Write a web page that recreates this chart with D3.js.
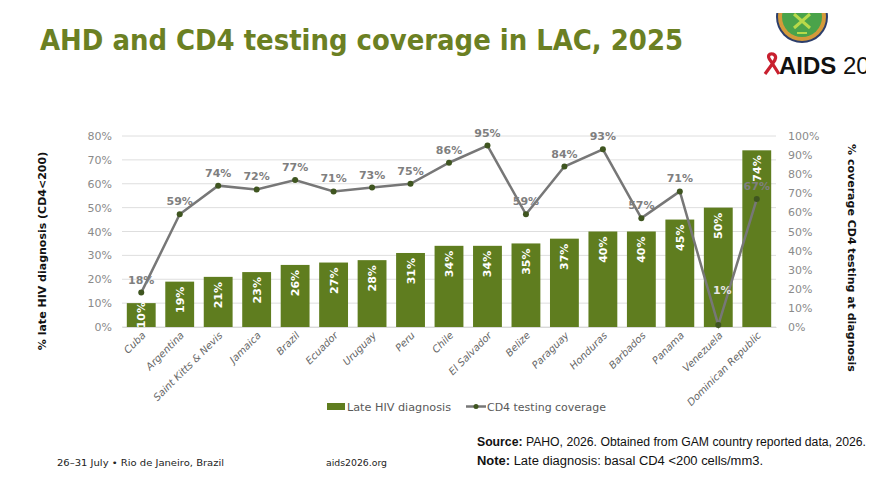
<!DOCTYPE html>
<html>
<head>
<meta charset="utf-8">
<script src="https://cdn.jsdelivr.net/npm/d3@7"></script>
<style>
  body { margin: 0; background: #fff; }
  svg { display: block; }
</style>
</head>
<body>
<svg id="chart"></svg>
<script>
// Data
const countries = ["Cuba", "Argentina", "Saint Kitts & Nevis", "Jamaica", "Brazil", "Ecuador",
  "Uruguay", "Peru", "Chile", "El Salvador", "Belize", "Paraguay", "Honduras", "Barbados",
  "Panama", "Venezuela", "Dominican Republic"];
const lateDiagnosis = [10, 19, 21, 23, 26, 27, 28, 31, 34, 34, 35, 37, 40, 40, 45, 50, 74];
const cd4Coverage = [18, 59, 74, 72, 77, 71, 73, 75, 86, 95, 59, 84, 93, 57, 71, 1, 67];
const leftTicks = [0, 10, 20, 30, 40, 50, 60, 70, 80];
const rightTicks = [0, 10, 20, 30, 40, 50, 60, 70, 80, 90, 100];
const legendLabels = ["Late HIV diagnosis", "CD4 testing coverage"];

const W = 879, H = 491;
const barColor = "#5f7d1f";
const lineColor = "#777777";
const labelGray = "#7f7f7f";
const tickFont = "DejaVu Sans, Verdana";

const svg = d3.select("#chart").attr("width", W).attr("height", H);

// Title
svg.append("text")
  .attr("x", 40).attr("y", 50)
  .attr("font-family", "DejaVu Sans Condensed, DejaVu Sans")
  .attr("font-stretch", "condensed")
  .attr("font-weight", "bold")
  .attr("font-size", 29)
  .attr("textLength", 643).attr("lengthAdjust", "spacingAndGlyphs")
  .attr("fill", "#6b8023")
  .text("AHD and CD4 testing coverage in LAC, 2025");

// Logo (top right)
const logo = svg.append("g");
logo.append("clipPath").attr("id", "logoClip")
  .append("rect").attr("x", 760).attr("y", 13).attr("width", 120).attr("height", 40);
logo.append("clipPath").attr("id", "edgeClip")
  .append("rect").attr("x", 0).attr("y", 0).attr("width", 866).attr("height", 100);
const emb = logo.append("g").attr("clip-path", "url(#logoClip)");
emb.append("circle").attr("cx", 802).attr("cy", 17).attr("r", 26).attr("fill", "#2c3e6b");
emb.append("circle").attr("cx", 802).attr("cy", 17).attr("r", 24).attr("fill", "#d49a3a");
emb.append("circle").attr("cx", 802).attr("cy", 17).attr("r", 20).attr("fill", "#4aa34a");
emb.append("path").attr("d", "M794,14 L810,28 M810,14 L794,28")
  .attr("stroke", "#b8d94a").attr("stroke-width", 3);
emb.append("path").attr("d", "M797,33 L807,33").attr("stroke", "#b8d94a").attr("stroke-width", 2);
logo.append("path")
  .attr("d", "M765,74 L773,63 C776,59 777,56 773,54 C769,53 767,56 770,60 L779,74")
  .attr("fill", "none").attr("stroke", "#c8202f").attr("stroke-width", 3.2);
logo.append("text").attr("x", 779).attr("y", 74)
  .attr("font-family", "Liberation Sans, Arial").attr("font-weight", "bold")
  .attr("font-size", 24).attr("fill", "#111").text("AIDS");
logo.append("text").attr("x", 843).attr("y", 74)
  .attr("clip-path", "url(#edgeClip)")
  .attr("font-family", "Liberation Sans, Arial")
  .attr("font-size", 24).attr("fill", "#111").text("20");

// Scales
const x = d3.scaleBand().domain(countries).range([122, 776])
  .paddingInner(0.25).paddingOuter(0.125);
const yL = d3.scaleLinear().domain([0, 80]).range([327, 136]);
const yR = d3.scaleLinear().domain([0, 100]).range([327, 136]);
const cx = i => x(countries[i]) + x.bandwidth() / 2;

// Gridlines
svg.append("g").selectAll("line").data(leftTicks).join("line")
  .attr("x1", 122).attr("x2", 776)
  .attr("y1", d => yL(d)).attr("y2", d => yL(d))
  .attr("stroke", "#dedede").attr("stroke-width", 1);

// Axes
const leftAxis = svg.append("g").attr("transform", "translate(122,0)")
  .call(d3.axisLeft(yL).tickValues(leftTicks).tickSize(0).tickPadding(10).tickFormat(d => d + "%"));
const rightAxis = svg.append("g").attr("transform", "translate(776,0)")
  .call(d3.axisRight(yR).tickValues(rightTicks).tickSize(0).tickPadding(12).tickFormat(d => d + "%"));
[leftAxis, rightAxis].forEach(a => {
  a.select(".domain").remove();
  a.selectAll("text").attr("font-family", tickFont).attr("font-size", 11).attr("fill", "#8a8a8a");
});

const xAxis = svg.append("g").attr("transform", "translate(0,327)")
  .call(d3.axisBottom(x).tickSize(0).tickPadding(0));
xAxis.select(".domain").attr("stroke", "#d9d9d9");
xAxis.selectAll("text")
  .attr("font-family", tickFont).attr("font-size", 10).attr("font-style", "italic")
  .attr("fill", "#666")
  .attr("text-anchor", "end")
  .attr("dy", 0)
  .attr("transform", "translate(5,9) rotate(-45)");

// Bars
svg.append("g").selectAll("rect").data(lateDiagnosis).join("rect")
  .attr("x", (d, i) => x(countries[i]))
  .attr("y", d => yL(d))
  .attr("width", x.bandwidth())
  .attr("height", d => yL(0) - yL(d))
  .attr("fill", barColor);

// Line
const line = d3.line()
  .x((d, i) => cx(i))
  .y(d => yR(d));

svg.append("path").datum(cd4Coverage)
  .attr("d", line)
  .attr("fill", "none").attr("stroke", lineColor).attr("stroke-width", 2.5);

svg.append("g").selectAll("circle").data(cd4Coverage).join("circle")
  .attr("cx", (d, i) => cx(i))
  .attr("cy", d => yR(d))
  .attr("r", 3)
  .attr("fill", "#3f5520");

// line labels (very low values are lifted clear of the axis, inside the bar)
svg.append("g").selectAll("text").data(cd4Coverage).join("text")
  .attr("x", (d, i) => cx(i) + (d < 5 ? 4 : 0))
  .attr("y", d => d < 5 ? yR(d) - 31 : yR(d) - 9)
  .attr("text-anchor", "middle")
  .attr("font-family", tickFont).attr("font-weight", "bold").attr("font-size", 11)
  .attr("fill", d => d < 5 ? "#e6e6e6" : labelGray)
  .text(d => d + "%");

// Bar labels (drawn last, inside end; short bars keep label on the baseline)
svg.append("g").selectAll("text").data(lateDiagnosis).join("text")
  .attr("transform", (d, i) => `translate(${cx(i) + 4},${Math.min(yL(d) + 5, yL(0) - 25)}) rotate(-90)`)
  .attr("text-anchor", "end")
  .attr("font-family", tickFont).attr("font-weight", "bold").attr("font-size", 11)
  .attr("fill", "#fff")
  .text(d => d + "%");

// Axis titles
svg.append("text")
  .attr("transform", "translate(46,251) rotate(-90)")
  .attr("text-anchor", "middle")
  .attr("font-family", tickFont).attr("font-weight", "bold").attr("font-size", 11)
  .attr("fill", "#111")
  .text("% late HIV diagnosis (CD4<200)");

svg.append("text")
  .attr("transform", "translate(848,258) rotate(90)")
  .attr("text-anchor", "middle")
  .attr("font-family", tickFont).attr("font-weight", "bold").attr("font-size", 11)
  .attr("fill", "#111")
  .text("% coverage CD4 testing at diagnosis");

// Legend
const leg = svg.append("g");
leg.append("rect").attr("x", 327).attr("y", 403).attr("width", 18).attr("height", 7).attr("fill", barColor);
leg.append("text").attr("x", 347).attr("y", 411)
  .attr("font-family", tickFont).attr("font-size", 10.5).attr("fill", "#595959")
  .attr("textLength", 104).attr("lengthAdjust", "spacingAndGlyphs")
  .text(legendLabels[0]);
leg.append("line").attr("x1", 466).attr("x2", 486).attr("y1", 406.5).attr("y2", 406.5)
  .attr("stroke", lineColor).attr("stroke-width", 2.5);
leg.append("circle").attr("cx", 476).attr("cy", 406.5).attr("r", 2.5).attr("fill", "#3f5520");
leg.append("text").attr("x", 487).attr("y", 411)
  .attr("font-family", tickFont).attr("font-size", 10.5).attr("fill", "#595959")
  .attr("textLength", 119).attr("lengthAdjust", "spacingAndGlyphs")
  .text(legendLabels[1]);

// Footer
svg.append("text").attr("x", 57).attr("y", 466)
  .attr("font-family", tickFont).attr("font-size", 9).attr("fill", "#222")
  .attr("textLength", 167).attr("lengthAdjust", "spacingAndGlyphs")
  .text("26–31 July  •  Rio de Janeiro, Brazil");
svg.append("text").attr("x", 326).attr("y", 466)
  .attr("font-family", tickFont).attr("font-size", 9).attr("fill", "#222")
  .attr("textLength", 61).attr("lengthAdjust", "spacingAndGlyphs")
  .text("aids2026.org");

const foot = "Liberation Sans, Arial";
const src = svg.append("text").attr("x", 477).attr("y", 446)
  .attr("font-family", foot).attr("font-size", 12).attr("fill", "#111")
  .attr("textLength", 389).attr("lengthAdjust", "spacingAndGlyphs");
src.append("tspan").attr("font-weight", "bold").text("Source:");
src.append("tspan").text(" PAHO, 2026. Obtained from GAM country reported data, 2026.");
const note = svg.append("text").attr("x", 477).attr("y", 465)
  .attr("font-family", foot).attr("font-size", 12).attr("fill", "#111")
  .attr("textLength", 286).attr("lengthAdjust", "spacingAndGlyphs");
note.append("tspan").attr("font-weight", "bold").text("Note:");
note.append("tspan").text(" Late diagnosis: basal CD4 <200 cells/mm3.");
</script>
</body>
</html>
